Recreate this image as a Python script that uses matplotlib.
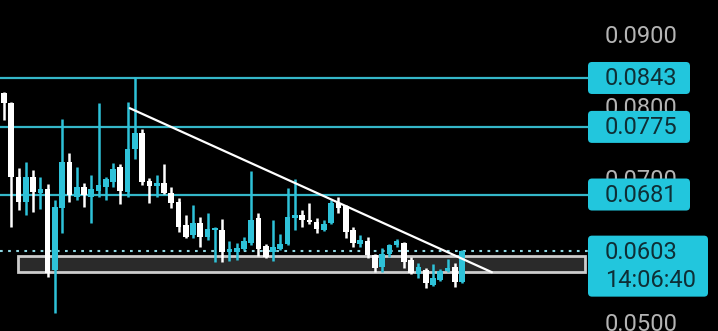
import matplotlib
matplotlib.use("Agg")
import matplotlib.pyplot as plt
from matplotlib.patches import Rectangle, FancyBboxPatch

# ohlc, oldest first (64 candles)
opens = [0.0822, 0.0808, 0.0705, 0.0671, 0.0705, 0.0683, 0.0689, 0.0576, 0.0662, 0.0726,
         0.0678, 0.0692, 0.0678, 0.0686, 0.0692, 0.0698, 0.0719, 0.0685, 0.0744, 0.0767,
         0.0700, 0.0693, 0.0697, 0.0683, 0.0671, 0.0639, 0.0625, 0.0641, 0.0622, 0.0632,
         0.0632, 0.0601, 0.0601, 0.0605, 0.0614, 0.0648, 0.0610, 0.0601, 0.0605, 0.0612,
         0.0648, 0.0653, 0.0646, 0.0643, 0.0632, 0.0641, 0.0669, 0.0665, 0.0632, 0.0612,
         0.0616, 0.0597, 0.0580, 0.0598, 0.0611, 0.0614, 0.0590, 0.0571, 0.0576, 0.0555,
         0.0562, 0.0575, 0.0580, 0.0559]
highs = [0.0824, 0.0810, 0.0718, 0.0726, 0.0715, 0.0705, 0.0696, 0.0673, 0.0786, 0.0739,
         0.0719, 0.0697, 0.0708, 0.0808, 0.0705, 0.0725, 0.0723, 0.0810, 0.0845, 0.0772,
         0.0704, 0.0708, 0.0723, 0.0692, 0.0676, 0.0653, 0.0667, 0.0650, 0.0655, 0.0636,
         0.0647, 0.0616, 0.0614, 0.0622, 0.0714, 0.0655, 0.0612, 0.0646, 0.0626, 0.0690,
         0.0703, 0.0660, 0.0669, 0.0648, 0.0646, 0.0673, 0.0678, 0.0667, 0.0636, 0.0625,
         0.0622, 0.0598, 0.0607, 0.0612, 0.0619, 0.0615, 0.0594, 0.0586, 0.0579, 0.0584,
         0.0578, 0.0591, 0.0586, 0.0604]
lows = [0.0785, 0.0636, 0.0660, 0.0653, 0.0657, 0.0661, 0.0566, 0.0516, 0.0628, 0.0671,
        0.0673, 0.0664, 0.0641, 0.0678, 0.0673, 0.0692, 0.0668, 0.0678, 0.0730, 0.0694,
        0.0669, 0.0678, 0.0682, 0.0662, 0.0629, 0.0621, 0.0621, 0.0608, 0.0618, 0.0587,
        0.0587, 0.0589, 0.0590, 0.0604, 0.0611, 0.0596, 0.0593, 0.0589, 0.0604, 0.0611,
        0.0632, 0.0636, 0.0640, 0.0628, 0.0630, 0.0640, 0.0655, 0.0621, 0.0608, 0.0608,
        0.0593, 0.0573, 0.0573, 0.0594, 0.0608, 0.0579, 0.0571, 0.0565, 0.0551, 0.0554,
        0.0561, 0.0573, 0.0553, 0.0558]
closes = [0.0808, 0.0705, 0.0671, 0.0705, 0.0685, 0.0689, 0.0572, 0.0664, 0.0726, 0.0680,
          0.0692, 0.0680, 0.0689, 0.0694, 0.0703, 0.0717, 0.0686, 0.0744, 0.0767, 0.0698,
          0.0693, 0.0697, 0.0683, 0.0669, 0.0636, 0.0622, 0.0641, 0.0622, 0.0633, 0.0635,
          0.0601, 0.0605, 0.0607, 0.0616, 0.0646, 0.0605, 0.0594, 0.0608, 0.0612, 0.0650,
          0.0653, 0.0646, 0.0643, 0.0633, 0.0640, 0.0669, 0.0662, 0.0629, 0.0614, 0.0618,
          0.0597, 0.0579, 0.0598, 0.0611, 0.0616, 0.0587, 0.0572, 0.0580, 0.0558, 0.0565,
          0.0575, 0.0579, 0.0559, 0.0603]

levels = [0.0843, 0.0775, 0.0681]
last_price = 0.0603
last_time = "14:06:40"
zone_low, zone_high = 0.0573, 0.0596
trend_x = [17.3, 67.1]
trend_y = [0.0801, 0.0573]
tick_vals = [0.0900, 0.0800, 0.0700, 0.0600, 0.0500]

W, H = 718, 331
ymin, ymax = 0.04913, 0.09514
xmin, xmax = -0.55, 98.2

fig = plt.figure(figsize=(W / 100, H / 100), dpi=100, facecolor="black")
ax = fig.add_axes([0, 0, 1, 1])
ax.set_facecolor("black")
ax.set_xlim(xmin, xmax)
ax.set_ylim(ymin, ymax)
ax.axis("off")

up_col = "#2ec2d9"
line_col = "#35b7c9"
box_col = "#22c6dd"
txt_dark = "#0e2f36"
edge_frac = 588 / W  # right end of the lines (where the labels begin)

# support zone
ax.add_patch(Rectangle((1.93, zone_low), 79.9 - 1.93, zone_high - zone_low,
                       facecolor="#2a2a2a", edgecolor="#cccccc", lw=2, zorder=1))

for lv in levels:
    ax.axhline(lv, xmin=0, xmax=edge_frac, color=line_col, lw=1.6, zorder=2)
ax.axhline(last_price, xmin=0, xmax=edge_frac, color="#8ed6e2", lw=1.5,
           dashes=(1.3, 2.6), zorder=2)

# candles
for i in range(len(opens)):
    o, h, l, c = opens[i], highs[i], lows[i], closes[i]
    col = up_col if c >= o else "white"
    ax.vlines(i, l, h, color=col, lw=1.8, zorder=3)
    body = max(abs(c - o), 0.00005)
    ax.bar(i, body, bottom=min(o, c), width=0.78, color=col, lw=0, zorder=3)

ax.plot(trend_x, trend_y, color="white", lw=1.6, zorder=4, solid_capstyle="round")

# right side labels in pixel space
ov = fig.add_axes([0, 0, 1, 1])
ov.set_xlim(0, W)
ov.set_ylim(H, 0)
ov.axis("off")
ov.patch.set_alpha(0)

def to_px(p):
    return (ymax - p) / (ymax - ymin) * H

font = "Roboto"
fs = 17
for t in tick_vals:
    ov.text(605, to_px(t), "%.4f" % t, color="#b4b4b4", fontsize=fs,
            family=font, va="center", ha="left", zorder=1)

for lv in levels:
    y = to_px(lv)
    ov.add_patch(FancyBboxPatch((588, y - 16), 102, 32,
                                boxstyle="round,pad=0,rounding_size=4",
                                fc=box_col, ec="none", zorder=5))
    ov.text(605, y + 1, "%.4f" % lv, color=txt_dark, fontsize=fs, family=font,
            va="center", ha="left", zorder=6)

y = to_px(last_price)
ov.add_patch(FancyBboxPatch((588, y - 15), 120, 61,
                            boxstyle="round,pad=0,rounding_size=4",
                            fc=box_col, ec="none", zorder=5))
ov.text(605, y + 2, "%.4f" % last_price, color=txt_dark, fontsize=fs, family=font,
        va="center", ha="left", zorder=6)
ov.text(605, y + 30, last_time, color=txt_dark, fontsize=fs, family=font,
        va="center", ha="left", zorder=6)

fig.savefig("out.png", dpi=100, facecolor="black")
